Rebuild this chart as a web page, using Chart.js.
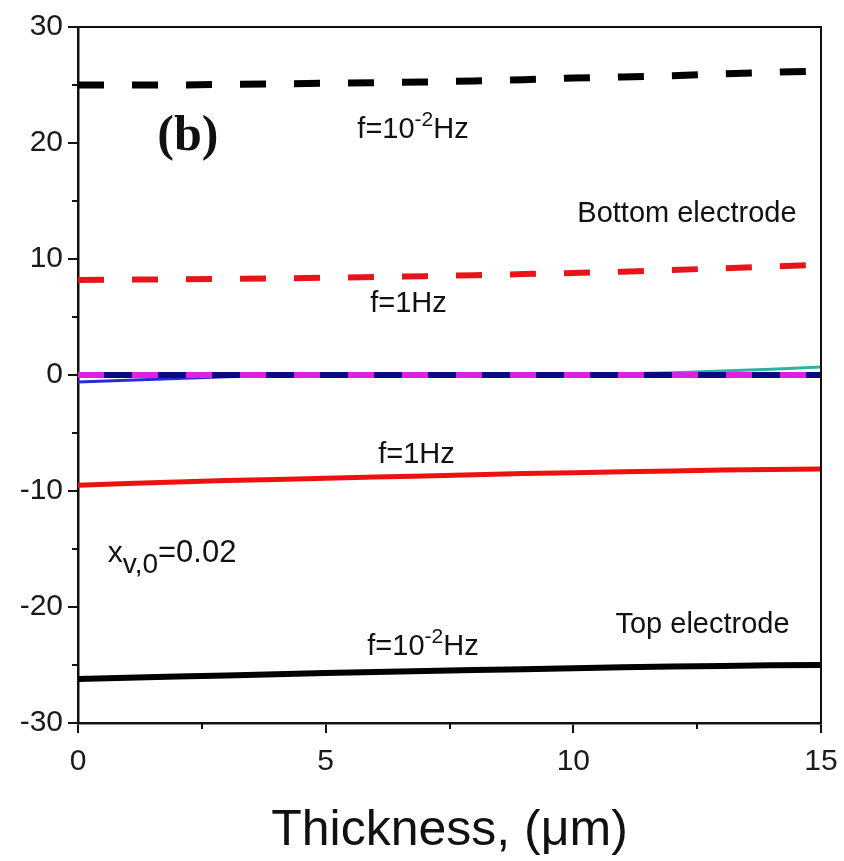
<!DOCTYPE html>
<html>
<head>
<meta charset="utf-8">
<script src="https://cdn.jsdelivr.net/npm/chart.js@4.4.1/dist/chart.umd.min.js"></script>
<style>
  body { margin: 0; background: #fff; }
  canvas { display: block; }
</style>
</head>
<body>
<canvas id="myChart" width="844" height="861"></canvas>
<script>
// Thickness (um) sample points
const thickness = [0, 1, 2, 3, 4, 5, 6, 7, 8, 9, 10, 11, 12, 13, 14, 15];

// Bottom electrode (dashed)
const bottomLowF = [25.0, 25.0, 25.0, 25.05, 25.1, 25.15, 25.2, 25.25, 25.35, 25.45, 25.6, 25.7, 25.8, 25.95, 26.1, 26.2];
const bottomOneHz = [8.2, 8.22, 8.25, 8.3, 8.33, 8.38, 8.45, 8.52, 8.6, 8.7, 8.8, 8.9, 9.05, 9.2, 9.35, 9.5];
const bottomHighF = [0, 0, 0, 0, 0, 0, 0, 0, 0, 0, 0, 0, 0, 0, 0, 0];

// Top electrode (solid)
const topHighF = [0, 0, 0, 0, 0, 0, 0, 0, 0, 0, 0, 0, 0, 0, 0, 0];
const topMidF = [-0.6, -0.45, -0.3, -0.15, -0.05, 0, 0, 0, 0, 0, 0, 0, 0, 0, 0, 0];
const topEdge = [0, 0, 0, 0, 0, 0, 0, 0, 0, 0, 0.05, 0.1, 0.2, 0.35, 0.5, 0.7];
const topOneHz = [-9.5, -9.35, -9.22, -9.1, -9.0, -8.9, -8.8, -8.7, -8.6, -8.5, -8.42, -8.35, -8.28, -8.2, -8.15, -8.1];
const topLowF = [-26.2, -26.1, -26.0, -25.9, -25.8, -25.7, -25.6, -25.52, -25.44, -25.36, -25.28, -25.2, -25.14, -25.08, -25.03, -25.0];

const xTicks = [0, 5, 10, 15];
const yTicks = [-30, -20, -10, 0, 10, 20, 30];
const xMinor = [2.5, 7.5, 12.5];
const yMinor = [-25, -15, -5, 5, 15, 25];

function pts(ys) {
    return thickness.map((x, i) => ({ x: x, y: ys[i] }));
}

// order: lower number is drawn on top
function series(ys, color, width, order, dash) {
    return {
        data: pts(ys),
        borderColor: color,
        borderWidth: width,
        borderDash: dash || [],
        borderCapStyle: 'butt',
        pointRadius: 0,
        fill: false,
        tension: 0,
        order: order
    };
}

// Text inside the plot, anchored in data units (left edge, baseline)
// each part: [text, font size, vertical shift in px]
const notes = [
    { parts: [['f=10', 29, 0], ['-2', 21, -12], ['Hz', 29, 0]], x: 5.64, y: 20.4 },
    { parts: [['Bottom electrode', 29, 0]], x: 10.08, y: 13.2 },
    { parts: [['f=1Hz', 29, 0]], x: 5.9, y: 5.4 },
    { parts: [['f=1Hz', 29, 0]], x: 6.06, y: -7.6 },
    { parts: [['x', 30, 0], ['v,0', 28, 11], ['=0.02', 31, 0]], x: 0.6, y: -16.1 },
    { parts: [['Top electrode', 29, 0]], x: 10.85, y: -22.2 },
    { parts: [['f=10', 29, 0], ['-2', 21, -12], ['Hz', 29, 0]], x: 5.84, y: -24.1 }
];

const annotate = {
    id: 'annotate',
    afterDatasetsDraw(chart) {
        const c = chart.ctx, xs = chart.scales.x, ys = chart.scales.y;
        c.save();
        c.fillStyle = '#111';
        c.textBaseline = 'alphabetic';
        c.textAlign = 'left';
        notes.forEach(n => {
            let px = xs.getPixelForValue(n.x);
            const py = ys.getPixelForValue(n.y);
            n.parts.forEach(p => {
                c.font = p[1] + 'px "Liberation Sans", Arial';
                c.fillText(p[0], px, py + p[2]);
                px += c.measureText(p[0]).width;
            });
        });
        // panel tag
        c.font = 'bold 50px "Liberation Serif", "Times New Roman"';
        c.fillText('(b)', xs.getPixelForValue(1.6), ys.getPixelForValue(19.4));
        c.restore();
    },
    afterDraw(chart) {
        const c = chart.ctx, a = chart.chartArea, xs = chart.scales.x, ys = chart.scales.y;
        c.save();
        c.strokeStyle = '#111';
        c.lineWidth = 2;
        // frame on top and right
        c.beginPath();
        c.moveTo(a.left, a.top);
        c.lineTo(a.right, a.top);
        c.lineTo(a.right, a.bottom);
        c.stroke();
        // minor ticks
        c.beginPath();
        xMinor.forEach(v => {
            const px = Math.round(xs.getPixelForValue(v));
            c.moveTo(px, a.bottom);
            c.lineTo(px, a.bottom + 6);
        });
        yMinor.forEach(v => {
            const py = Math.round(ys.getPixelForValue(v));
            c.moveTo(a.left, py);
            c.lineTo(a.left - 6, py);
        });
        c.stroke();
        c.restore();
    }
};

const ctx = document.getElementById('myChart').getContext('2d');
const myChart = new Chart(ctx, {
    type: 'line',
    data: {
        datasets: [
            series(topEdge, '#2bb5a0', 3, 8),
            series(topMidF, '#2a2ad8', 3, 7),
            series(topHighF, '#0a0a80', 6, 6),
            series(bottomHighF, '#e020e0', 6, 1, [26, 28]),
            series(bottomLowF, '#000000', 7, 2, [26, 28]),
            series(bottomOneHz, '#e8141a', 6, 3, [26, 28]),
            series(topOneHz, '#ee1111', 5, 4),
            series(topLowF, '#000000', 6, 5)
        ]
    },
    options: {
        responsive: false,
        animation: false,
        layout: { padding: { top: 27, right: 23, left: 0, bottom: 0 } },
        plugins: {
            legend: { display: false },
            tooltip: { enabled: false }
        },
        scales: {
            x: {
                type: 'linear',
                min: 0,
                max: 15,
                afterBuildTicks: s => { s.ticks = xTicks.map(v => ({ value: v })); },
                afterFit: s => { s.height = 138; s.paddingLeft = 0; s.paddingRight = 0; },
                grid: { drawOnChartArea: false, drawTicks: true, tickLength: 10, color: '#111', lineWidth: 2 },
                border: { color: '#111', width: 2.5 },
                ticks: { color: '#1a1a1a', font: { family: '"Liberation Sans", Arial', size: 30 }, padding: 11, maxRotation: 0 },
                title: {
                    display: true,
                    text: 'Thickness, (\u03bcm)',
                    color: '#111',
                    font: { family: '"Liberation Sans", Arial', size: 50 },
                    padding: { top: 0, bottom: 0 }
                }
            },
            y: {
                min: -30,
                max: 30,
                afterBuildTicks: s => { s.ticks = yTicks.map(v => ({ value: v })); },
                afterFit: s => { s.width = 78; s.paddingTop = 0; s.paddingBottom = 0; },
                grid: { drawOnChartArea: false, drawTicks: true, tickLength: 10, color: '#111', lineWidth: 2 },
                border: { color: '#111', width: 2.5 },
                ticks: { color: '#1a1a1a', font: { family: '"Liberation Sans", Arial', size: 30 }, padding: 5 }
            }
        }
    },
    plugins: [annotate]
});
</script>
</body>
</html>
